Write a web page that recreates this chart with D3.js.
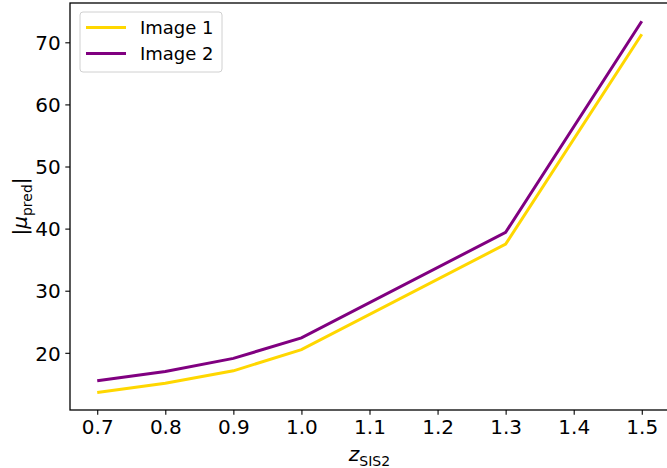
<!DOCTYPE html>
<html>
<head>
<meta charset="utf-8">
<script src="https://cdn.jsdelivr.net/npm/d3@7"></script>
<style>
  html, body { margin: 0; padding: 0; background: #fff; }
  svg { display: block; font-family: "DejaVu Sans", sans-serif; }
</style>
</head>
<body>
<svg id="chart" width="667" height="468"></svg>
<script>
// Redshift of the second SIS lens
const zValues = [0.7, 0.8, 0.9, 1.0, 1.3, 1.5];
// Predicted magnification |mu_pred| for each image
const image1 = [13.6, 15.1, 17.1, 20.5, 37.5, 71.3];
const image2 = [15.5, 17.0, 19.1, 22.4, 39.4, 73.4];
const seriesNames = ["Image 1", "Image 2"];
const seriesColors = ["#FFD700", "#800080"];
const xTicks = [0.7, 0.8, 0.9, 1.0, 1.1, 1.2, 1.3, 1.4, 1.5];
const yTicks = [20, 30, 40, 50, 60, 70];

const W = 667, H = 468;
const m = { left: 70, top: 3, right: 669, bottom: 410 };

const svg = d3.select("#chart");

const x = d3.scaleLinear().domain([0.66, 1.54]).range([m.left, m.right]);
const y = d3.scaleLinear().domain([10.79, 76.33]).range([m.bottom, m.top]);

const series = [image1, image2].map((vals, i) => ({
  name: seriesNames[i],
  color: seriesColors[i],
  points: zValues.map((z, j) => [z, vals[j]])
}));

const line = d3.line().x(d => x(d[0])).y(d => y(d[1]));

// data lines
svg.append("g")
  .selectAll("path")
  .data(series)
  .join("path")
  .attr("d", d => line(d.points))
  .attr("fill", "none")
  .attr("stroke", d => d.color)
  .attr("stroke-width", 3)
  .attr("stroke-linejoin", "miter");

// axes
const xAxis = d3.axisBottom(x).tickValues(xTicks).tickFormat(d3.format(".1f"))
  .tickSize(4.7).tickPadding(4.5);
const yAxis = d3.axisLeft(y).tickValues(yTicks).tickFormat(d3.format("d"))
  .tickSize(4.7).tickPadding(4.5);

const gx = svg.append("g").attr("transform", `translate(0,${m.bottom})`).call(xAxis);
const gy = svg.append("g").attr("transform", `translate(${m.left},0)`).call(yAxis);
[gx, gy].forEach(g => {
  g.select(".domain").remove();
  g.selectAll(".tick line").attr("stroke", "#000").attr("stroke-width", 1.1);
  g.selectAll(".tick text").attr("fill", "#000")
    .style("font-family", "DejaVu Sans, sans-serif").style("font-size", "20px");
});
gx.selectAll(".tick text").attr("dy", "0.72em");
gy.selectAll(".tick text").attr("dy", "0.36em");

// frame
svg.append("rect")
  .attr("x", m.left).attr("y", m.top)
  .attr("width", m.right - m.left).attr("height", m.bottom - m.top)
  .attr("fill", "none").attr("stroke", "#000").attr("stroke-width", 1.3);

// axis titles
const xl = svg.append("text")
  .attr("x", (m.left + m.right) / 2).attr("y", 461)
  .attr("text-anchor", "middle").style("font-size", "20px").attr("fill", "#000");
xl.append("tspan").style("font-style", "italic").text("z");
xl.append("tspan").attr("dy", 5).style("font-size", "14px").text("SIS2");

const yl = svg.append("text")
  .attr("transform", `translate(27,${(m.top + m.bottom) / 2}) rotate(-90)`)
  .attr("text-anchor", "middle").style("font-size", "20px").attr("fill", "#000");
yl.append("tspan").text("|");
yl.append("tspan").style("font-style", "italic").text("μ");
yl.append("tspan").attr("dy", 5).style("font-size", "14px").text("pred");
yl.append("tspan").attr("dy", -5).text("|");

// legend
const lg = svg.append("g").attr("transform", "translate(80,12)");
lg.append("rect")
  .attr("width", 142).attr("height", 60).attr("rx", 3)
  .attr("fill", "#fff").attr("fill-opacity", 0.8)
  .attr("stroke", "#d0d0d0").attr("stroke-width", 1);
const items = lg.selectAll("g.item").data(series).join("g")
  .attr("class", "item")
  .attr("transform", (d, i) => `translate(0,${15.5 + i * 26})`);
items.append("line")
  .attr("x1", 6).attr("x2", 46)
  .attr("stroke", d => d.color).attr("stroke-width", 3);
items.append("text")
  .attr("x", 60).attr("dy", "0.36em")
  .style("font-size", "18px").attr("fill", "#000")
  .text(d => d.name);
</script>
</body>
</html>
